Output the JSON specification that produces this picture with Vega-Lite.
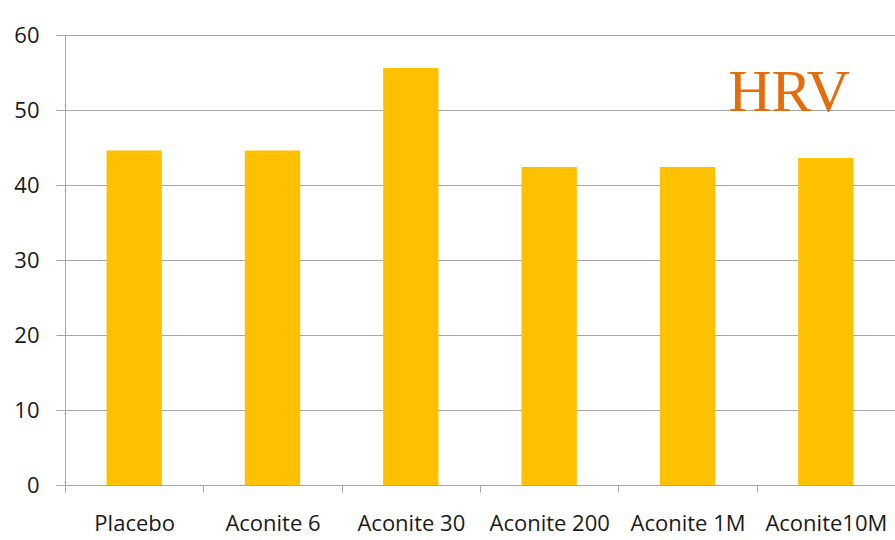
{
  "$schema": "https://vega.github.io/schema/vega-lite/v6.json",
  "width": 830,
  "height": 450,
  "autosize": {"type": "none"},
  "padding": {"left": 65, "top": 35, "right": 0, "bottom": 55},
  "background": "white",
  "title": {
    "text": "HRV",
    "frame": "group",
    "anchor": "end",
    "orient": "top",
    "offset": 0,
    "dx": -45,
    "dy": 147,
    "baseline": "alphabetic",
    "font": "Liberation Serif",
    "fontSize": 60,
    "fontWeight": "normal",
    "color": "#E46C0A"
  },
  "data": {
    "values": [
      {"group": "Placebo", "hrv": 44.6},
      {"group": "Aconite 6", "hrv": 44.6},
      {"group": "Aconite 30", "hrv": 55.6},
      {"group": "Aconite 200", "hrv": 42.4},
      {"group": "Aconite 1M", "hrv": 42.4},
      {"group": "Aconite10M", "hrv": 43.6}
    ]
  },
  "mark": {"type": "bar", "color": "#FFC000", "width": {"band": 0.4}},
  "encoding": {
    "x": {
      "field": "group",
      "type": "nominal",
      "sort": null,
      "title": null,
      "scale": {"paddingInner": 0, "paddingOuter": 0},
      "axis": {
        "labelAngle": 0,
        "labelFont": "Open Sans",
        "labelFontSize": 22,
        "labelColor": "#1A1A1A",
        "labelPadding": 21,
        "tickBand": "extent",
        "tickSize": 7,
        "tickColor": "#A6A6A6",
        "domainColor": "#A6A6A6",
        "grid": false
      }
    },
    "y": {
      "field": "hrv",
      "type": "quantitative",
      "title": null,
      "scale": {"domain": [0, 60], "nice": false},
      "axis": {
        "values": [0, 10, 20, 30, 40, 50, 60],
        "labelFont": "Open Sans",
        "labelFontSize": 22,
        "labelColor": "#1A1A1A",
        "labelPadding": 17,
        "tickSize": 9,
        "tickColor": "#A6A6A6",
        "domainColor": "#A6A6A6",
        "gridColor": "#A6A6A6",
        "gridOpacity": 1
      }
    }
  },
  "config": {"view": {"stroke": null}}
}
